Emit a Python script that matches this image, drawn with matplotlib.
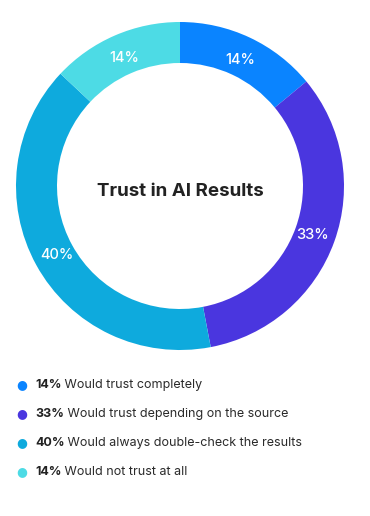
import numpy as np
import matplotlib.pyplot as plt

# Survey shares (percent) - ring sizes, labels as printed
labels = ["Would trust completely", "Would trust depending on the source",
          "Would always double-check the results", "Would not trust at all"]
values = [14, 33, 40, 13]
pct_text = ["14%", "33%", "40%", "14%"]
colors = ["#0A84FF", "#4A36DF", "#0EAADD", "#4DDBE5"]
title = "Trust in AI Results"

plt.rcParams['font.family'] = ['Inter', 'DejaVu Sans']

fig = plt.figure(figsize=(3.7, 5.16), dpi=100)
W, H = 370, 516

# donut axes placed in pixel terms
cx, cy, r = 180, 186, 164
ax = fig.add_axes([(cx - r) / W, (H - cy - r) / H, 2 * r / W, 2 * r / H])
wedges, _ = ax.pie(values, colors=colors, startangle=90, counterclock=False,
                   radius=1, wedgeprops=dict(width=0.25, linewidth=0))
ax.set_xlim(-1, 1)
ax.set_ylim(-1, 1)
ax.set_aspect('equal')
ax.axis('off')

# percent labels in the middle of each ring segment (baseline = centre - half cap height)
cap = 5.5 / r
for w, s in zip(wedges, pct_text):
    ang = np.deg2rad((w.theta1 + w.theta2) / 2)
    ax.text(0.86 * np.cos(ang), 0.86 * np.sin(ang) - cap, s, color="white",
            ha="center", va="baseline", fontsize=10.5, fontweight="medium")

ax.text(0, -10 / r, title, ha="center", va="baseline", fontsize=13.5,
        fontweight="bold", color="#222222")

# legend: dot, bold percentage, then description
ys = [385, 414, 443, 472]
for y, lab, s, c in zip(ys, labels, pct_text, colors):
    fy = 1 - y / H
    fig.text(22 / W, fy, "\u25CF", color=c, ha="center", va="center", fontsize=9,
             family="DejaVu Sans")
    t = fig.text(35 / W, fy, s, ha="left", va="center", fontsize=9,
                 fontweight="bold", color="#222222")
    ax.annotate(" " + lab, xy=(1, 0.5), xycoords=t, ha="left", va="center",
                fontsize=9, color="#2a2a2a", annotation_clip=False)

fig.savefig("out.png", dpi=100, facecolor="white")
